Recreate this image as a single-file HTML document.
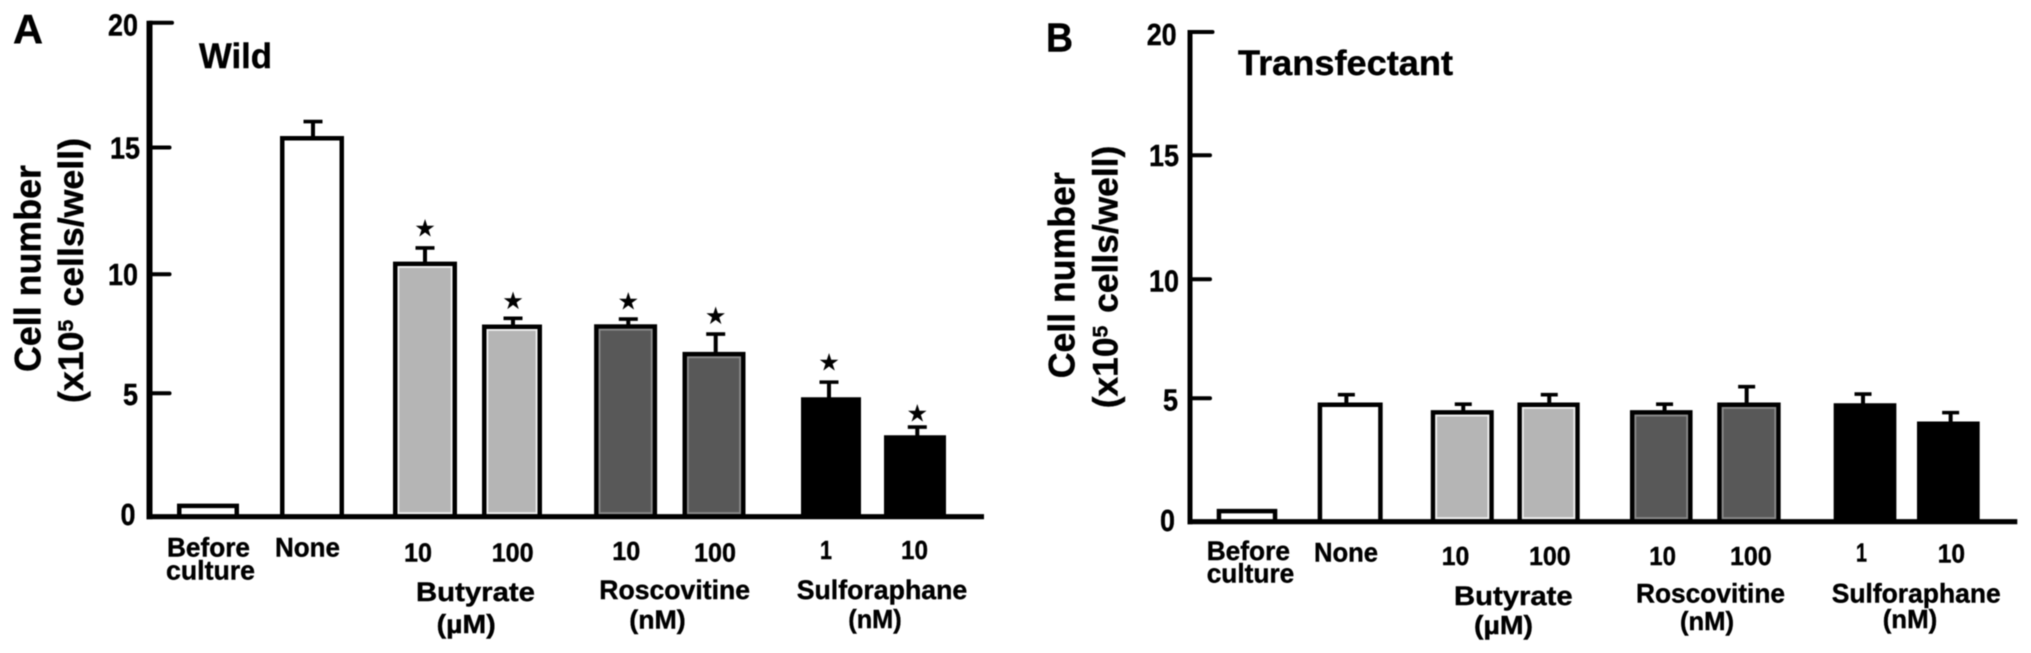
<!DOCTYPE html>
<html lang="en">
<head>
<meta charset="utf-8">
<title>Cell number bar charts</title>
<style>
html,body{margin:0;padding:0;background:#fff;width:2031px;height:653px;overflow:hidden}
svg{display:block;filter:blur(0.6px)}
text{font-family:"Liberation Sans",Arial,sans-serif;font-weight:700;fill:#000;stroke:#000;stroke-width:0.4px}
</style>
</head>
<body>
<svg id="figure" xmlns="http://www.w3.org/2000/svg" width="2031" height="653" viewBox="0 0 2031 653">
  <rect width="2031" height="653" fill="#fff"/>

  <g>
    <text x="13" y="43" font-size="41" textLength="30" lengthAdjust="spacingAndGlyphs">A</text>
    <text x="199" y="68" font-size="35" textLength="73" lengthAdjust="spacingAndGlyphs">Wild</text>
    <text transform="translate(40.7,372) rotate(-90)" font-size="37" textLength="207" lengthAdjust="spacingAndGlyphs">Cell number</text>
    <text transform="translate(83,403) rotate(-90)" font-size="35" textLength="265" lengthAdjust="spacingAndGlyphs">(x10<tspan font-size="21" dy="-10">5</tspan><tspan dy="10" dx="3"> cells/well)</tspan></text>
    <text x="167" y="556.7" font-size="27" textLength="83" lengthAdjust="spacingAndGlyphs">Before</text>
    <text x="166" y="579.3" font-size="27" textLength="89" lengthAdjust="spacingAndGlyphs">culture</text>
    <text x="275" y="556.7" font-size="27" textLength="65" lengthAdjust="spacingAndGlyphs">None</text>
    <text x="404" y="561.7" font-size="26" textLength="28" lengthAdjust="spacingAndGlyphs">10</text>
    <text x="491.7" y="561.7" font-size="26" textLength="42" lengthAdjust="spacingAndGlyphs">100</text>
    <text x="612.3" y="560" font-size="26" textLength="28" lengthAdjust="spacingAndGlyphs">10</text>
    <text x="694" y="561.7" font-size="26" textLength="42" lengthAdjust="spacingAndGlyphs">100</text>
    <text x="820" y="559" font-size="26" textLength="12" lengthAdjust="spacingAndGlyphs">1</text>
    <text x="901" y="559" font-size="26" textLength="27" lengthAdjust="spacingAndGlyphs">10</text>
    <text x="416" y="601" font-size="27" textLength="119" lengthAdjust="spacingAndGlyphs">Butyrate</text>
    <text x="436.7" y="633" font-size="26" textLength="59" lengthAdjust="spacingAndGlyphs">(µM)</text>
    <text x="599.3" y="599" font-size="27" textLength="150.7" lengthAdjust="spacingAndGlyphs">Roscovitine</text>
    <text x="629.3" y="628.3" font-size="26" textLength="56.4" lengthAdjust="spacingAndGlyphs">(nM)</text>
    <text x="796.7" y="599" font-size="27" textLength="170.6" lengthAdjust="spacingAndGlyphs">Sulforaphane</text>
    <text x="848.3" y="628" font-size="26" textLength="53.4" lengthAdjust="spacingAndGlyphs">(nM)</text>
  </g>

  <g>
    <text x="1046" y="51.7" font-size="41" textLength="27" lengthAdjust="spacingAndGlyphs">B</text>
    <text x="1238" y="75" font-size="35" textLength="215" lengthAdjust="spacingAndGlyphs">Transfectant</text>
    <text transform="translate(1074.5,378.3) rotate(-90)" font-size="37" textLength="206" lengthAdjust="spacingAndGlyphs">Cell number</text>
    <text transform="translate(1117.3,408.3) rotate(-90)" font-size="35" textLength="262.6" lengthAdjust="spacingAndGlyphs">(x10<tspan font-size="21" dy="-10">5</tspan><tspan dy="10" dx="3"> cells/well)</tspan></text>
    <text x="1206.7" y="560" font-size="27" textLength="83.3" lengthAdjust="spacingAndGlyphs">Before</text>
    <text x="1206.7" y="582.3" font-size="27" textLength="87.6" lengthAdjust="spacingAndGlyphs">culture</text>
    <text x="1314" y="561.7" font-size="27" textLength="64" lengthAdjust="spacingAndGlyphs">None</text>
    <text x="1441.7" y="565" font-size="26" textLength="27.6" lengthAdjust="spacingAndGlyphs">10</text>
    <text x="1529" y="565" font-size="26" textLength="41.7" lengthAdjust="spacingAndGlyphs">100</text>
    <text x="1649.3" y="565" font-size="26" textLength="26.7" lengthAdjust="spacingAndGlyphs">10</text>
    <text x="1730" y="565" font-size="26" textLength="41.7" lengthAdjust="spacingAndGlyphs">100</text>
    <text x="1856" y="561.7" font-size="26" textLength="11" lengthAdjust="spacingAndGlyphs">1</text>
    <text x="1937.7" y="562.3" font-size="26" textLength="27.3" lengthAdjust="spacingAndGlyphs">10</text>
    <text x="1454" y="605" font-size="27" textLength="118.7" lengthAdjust="spacingAndGlyphs">Butyrate</text>
    <text x="1474" y="634" font-size="26" textLength="59" lengthAdjust="spacingAndGlyphs">(µM)</text>
    <text x="1636" y="602.3" font-size="27" textLength="149" lengthAdjust="spacingAndGlyphs">Roscovitine</text>
    <text x="1680" y="630" font-size="26" textLength="54" lengthAdjust="spacingAndGlyphs">(nM)</text>
    <text x="1831.7" y="602.3" font-size="27" textLength="169" lengthAdjust="spacingAndGlyphs">Sulforaphane</text>
    <text x="1882.7" y="628" font-size="26" textLength="54.6" lengthAdjust="spacingAndGlyphs">(nM)</text>
  </g>
</svg>

<script>
const categories = ['before-culture', 'none', 'butyrate-10', 'butyrate-100', 'roscovitine-10', 'roscovitine-100', 'sulforaphane-1', 'sulforaphane-10'];
const treatmentKinds = ['blank', 'blank', 'light', 'light', 'dark', 'dark', 'solid', 'solid'];
const yTickValues = [0, 5, 10, 15, 20];
const yTickLabels = ['0', '5', '10', '15', '20'];
const wildValues = [0.53, 15.46, 10.5, 7.89, 7.9, 6.74, 4.84, 3.3];
const wildErrors = [0, 0.58, 0.54, 0.26, 0.22, 0.75, 0.63, 0.33];
const wildSignificant = [false, false, true, true, true, true, true, true];
const transfectantValues = [0.52, 4.83, 4.52, 4.83, 4.52, 4.83, 4.8, 4.06];
const transfectantErrors = [0, 0.32, 0.24, 0.32, 0.24, 0.66, 0.38, 0.36];
const transfectantSignificant = [false, false, false, false, false, false, false, false];

const NS = 'http://www.w3.org/2000/svg';
const figure = document.getElementById('figure');

function fillFor(kind) {
  if (kind === 'light') return '#b5b5b5';
  if (kind === 'dark') return '#585858';
  if (kind === 'solid') return '#000';
  return '#fff';
}

function edgeFor(kind) {
  return kind === 'light' ? '#f2f2f2' : '#8c8c8c';
}

function makeEl(tag, attrs, parent) {
  const el = document.createElementNS(NS, tag);
  for (const key in attrs) el.setAttribute(key, attrs[key]);
  parent.appendChild(el);
  return el;
}

function drawPanel(prefix, layout, values, errors, significant) {
  const yScale = function (v) {
    const step = 5;
    const i = Math.max(0, Math.min(layout.yGuide.length - 2, Math.floor(v / step)));
    return layout.yGuide[i] + (layout.yGuide[i + 1] - layout.yGuide[i]) * (v - i * step) / step;
  };
  const xScale = function (i) {
    return layout.x0 + layout.xk * [0, 104, 217, 304, 417.6, 506, 623, 707][i];
  };
  const base = yScale(0);
  const sw = 4.5;
  const group = makeEl('g', {}, figure);
  
  

  values.forEach(function (value, i) {
    const cx = xScale(i);
    const top = yScale(value);
    const w = layout.barWidths[i];
    const ex = cx + layout.errShift[i];
    if (errors[i] > 0) {
      const errTop = yScale(value + errors[i]);
      const stem = makeEl('line', {x1: ex, x2: ex, y1: top + 2, y2: errTop, stroke: '#000', 'stroke-width': 4}, group);
      
      
      const cap = makeEl('line', {x1: ex - layout.capHalf, x2: ex + layout.capHalf, y1: errTop, y2: errTop, stroke: '#000', 'stroke-width': 3.6}, group);
      
      
    }
    const bar = makeEl('rect', {x: cx - w / 2 + sw / 2, y: top + sw / 2, width: w - sw, height: Math.max(0, base - top - sw / 2), fill: fillFor(treatmentKinds[i]), stroke: '#000', 'stroke-width': sw}, group);
    
    
    if (treatmentKinds[i] === 'light' || treatmentKinds[i] === 'dark') {
      const inner = makeEl('rect', {x: cx - w / 2 + sw + 0.9, y: top + sw + 0.9, width: w - 2 * sw - 1.8, height: Math.max(0, base - top - sw - 4.5), fill: 'none', stroke: edgeFor(treatmentKinds[i]), 'stroke-width': 1.8}, group);
      
      
    }
    if (significant[i]) {
      const errTop = yScale(value + errors[i]);
      const star = makeEl('text', {x: ex, y: errTop - layout.starLift[i] + 7.5, 'font-size': 21, 'text-anchor': 'middle', style: 'font-family:"DejaVu Sans",sans-serif;stroke-width:0.8px'}, group);
      star.textContent = '★';
      
      
    }
  });

  const yAxis = makeEl('line', {x1: layout.axisX, x2: layout.axisX, y1: yScale(20) - 2, y2: base + 2.5, stroke: '#000', 'stroke-width': layout.axisWidth}, group);
  
  
  const xAxis = makeEl('line', {x1: layout.axisX - layout.axisWidth / 2, x2: layout.axisEnd, y1: base, y2: base, stroke: '#000', 'stroke-width': 5.2}, group);
  
  

  yTickValues.forEach(function (tv, i) {
    const ty = yScale(tv);
    if (tv > 0) {
      const tick = makeEl('line', {x1: layout.axisX, x2: layout.axisX + (tv === 20 ? 22.5 : 20), y1: ty, y2: ty, stroke: '#000', 'stroke-width': 4, 'stroke-linecap': 'round'}, group);
      
      
    }
    const label = makeEl('text', {x: layout.labelRight[i], y: ty + layout.labelDrop[i], 'font-size': 30.5, 'text-anchor': 'end', textLength: yTickLabels[i].length === 1 ? 15 : 30, lengthAdjust: 'spacingAndGlyphs'}, group);
    label.textContent = yTickLabels[i];
    
    
  });
}

drawPanel('wild', {
  x0: 208, xk: 1, axisX: 149.5, axisWidth: 6, axisEnd: 984, capHalf: 9.5,
  yGuide: [516.7, 393.3, 274.3, 147.5, 22.7],
  barWidths: [62, 64, 64, 60, 63, 63, 60, 62],
  errShift: [0, 1, 0, 1, 2.7, 1.7, -2, 2.3],
  starLift: [0, 0, 20, 17.6, 18, 18.5, 20, 14],
  labelRight: [135.5, 138, 138, 140, 138],
  labelDrop: [8.3, 11.7, 10.7, 11, 12.8]
}, wildValues, wildErrors, wildSignificant);

drawPanel('transfectant', {
  x0: 1247, xk: 0.992, axisX: 1190, axisWidth: 5, axisEnd: 2017.3, capHalf: 8.5,
  yGuide: [521.7, 398.3, 279.3, 155.3, 32],
  barWidths: [60.6, 65, 63, 62.3, 62.6, 63.4, 62.7, 62.7],
  errShift: [0, -3.8, 1, 0.7, 3.3, -2.3, -2, 2.3],
  starLift: [0, 0, 0, 0, 0, 0, 0, 0],
  labelRight: [1175, 1178, 1179, 1179, 1176.7],
  labelDrop: [9.3, 12.4, 12.4, 10.7, 13]
}, transfectantValues, transfectantErrors, transfectantSignificant);
</script>
</body>
</html>
